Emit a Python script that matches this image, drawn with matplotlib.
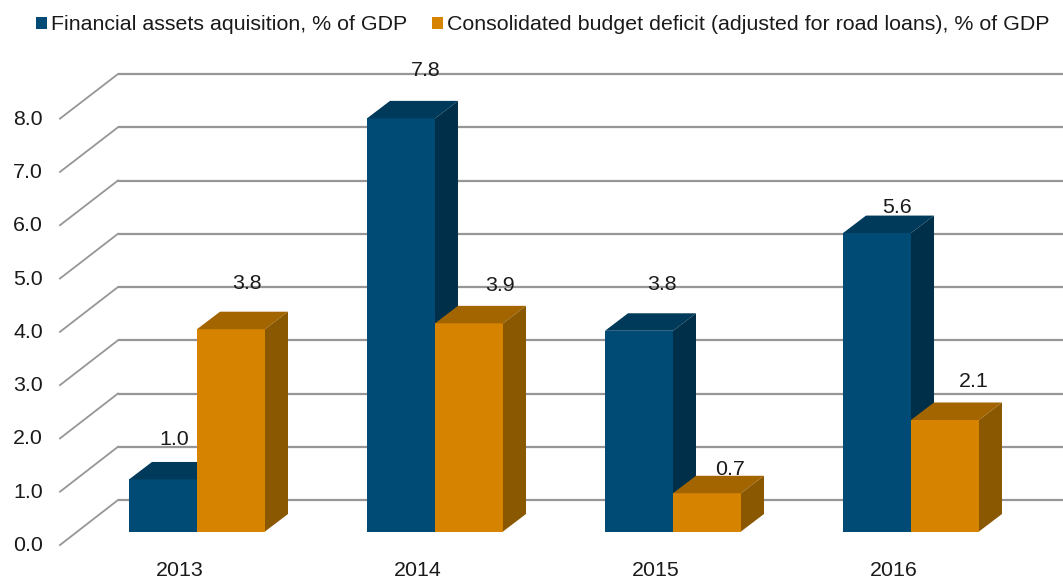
import matplotlib
matplotlib.use("Agg")
import matplotlib.pyplot as plt
from matplotlib.patches import Polygon, Patch

years = ["2013", "2014", "2015", "2016"]
financial_assets = [0.98, 7.78, 3.78, 5.62]
budget_deficit = [3.81, 3.92, 0.72, 2.10]
series_names = ["Financial assets aquisition, % of GDP",
                "Consolidated budget deficit (adjusted for road loans), % of GDP"]
grid_values = [0, 1, 2, 3, 4, 5, 6, 7, 8]

# layout (pixels of the 1063x579 figure)
W, H = 1063, 579
PX_CAT, PX_VAL = 238.0, 53.1
X0, Y0 = 197.0, 531.5
plt.rcParams["font.family"] = ["Liberation Sans", "DejaVu Sans"]
FS = 15.4
BLUE = ("#004B75", "#003A5B", "#002F4A")
ORANGE = ("#D68400", "#A36500", "#8A5800")
GRID = "#969696"
TXT = "#1A1A1A"

fig = plt.figure(figsize=(W / 100, H / 100), dpi=100)
ax = fig.add_axes([0, 0, 1, 1])
ax.set_xlim(-X0 / PX_CAT, (W - X0) / PX_CAT)
ax.set_ylim((Y0 - H) / PX_VAL, Y0 / PX_VAL)
ax.axis("off")

dx = lambda p: p / PX_CAT
dy = lambda p: p / PX_VAL

bar_w = dx(68)
depth_x, depth_y = dx(23), dy(17.5)

# back wall gridlines and their diagonal floor/side segments
wall_base = dy(31.5)
wall_step = 53.25 / PX_VAL
front_step = 53.3 / PX_VAL
front_base = dy(-13.5)
x_front, x_back = dx(60 - X0), dx(118 - X0)
x_end = dx(W - X0)
for g in grid_values:
    yb = wall_base + g * wall_step
    yf = front_base + g * front_step
    ax.plot([x_back, x_end], [yb, yb], color=GRID, lw=1.6, zorder=1, solid_capstyle="butt")
    ax.plot([x_front, x_back], [yf, yb], color=GRID, lw=1.3, zorder=1)
    ax.text(dx(43 - X0), front_base + dy(-0.5) + g * front_step, f"{g:.1f}",
            ha="right", va="center", fontsize=FS, color=TXT)


def bar3d(left, value, cols, z):
    right = left + bar_w
    ax.add_patch(Polygon([(left, 0), (right, 0), (right, value), (left, value)],
                         closed=True, fc=cols[0], ec="none", zorder=z))
    ax.add_patch(Polygon([(left, value), (right, value),
                          (right + depth_x, value + depth_y), (left + depth_x, value + depth_y)],
                         closed=True, fc=cols[1], ec="none", zorder=z))
    ax.add_patch(Polygon([(right, 0), (right + depth_x, depth_y),
                          (right + depth_x, value + depth_y), (right, value)],
                         closed=True, fc=cols[2], ec="none", zorder=z))


for i, (a, b) in enumerate(zip(financial_assets, budget_deficit)):
    bar3d(i - bar_w, a, BLUE, 2)
    bar3d(i, b, ORANGE, 3)
    ax.text(i + dx(-17.5), dy(-39), years[i], ha="center", va="center",
            fontsize=FS, color=TXT, zorder=5)

# value labels: offsets in pixels from the bar's top front centre
label_off_a = [(11, 40), (25, 48), (23, 46), (20, 26)]
label_off_b = [(16, 46), (31, 38), (23, 24), (29, 38)]
for i, (a, b) in enumerate(zip(financial_assets, budget_deficit)):
    ox, oy = label_off_a[i]
    ax.text(i - bar_w / 2 + dx(ox), a + dy(oy), f"{a:.1f}", ha="center", va="center",
            fontsize=FS, color=TXT, zorder=5)
    ox, oy = label_off_b[i]
    ax.text(i + bar_w / 2 + dx(ox), b + dy(oy), f"{b:.1f}", ha="center", va="center",
            fontsize=FS, color=TXT, zorder=5)

handles = [Patch(fc=BLUE[0], ec="none", label=series_names[0]),
           Patch(fc=ORANGE[0], ec="none", label=series_names[1])]
fig.legend(handles=handles, loc="center left", bbox_to_anchor=(36 / W, 1 - 25 / H), ncols=2,
           frameon=False, fontsize=FS, handlelength=0.52, handleheight=0.52,
           handletextpad=0.18, columnspacing=1.17, borderpad=0, borderaxespad=0,
           labelcolor=TXT)

fig.savefig("out.png", dpi=100)
